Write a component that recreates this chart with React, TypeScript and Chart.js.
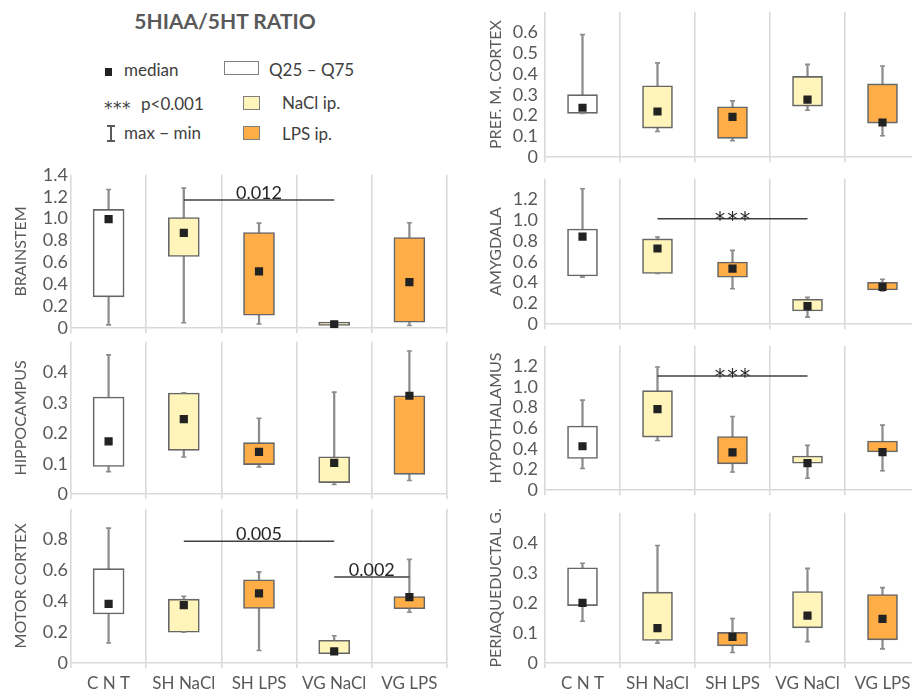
import React, { useEffect, useRef } from 'react';
import { Chart, registerables } from 'chart.js';

Chart.register(...registerables);
Chart.defaults.font.family = 'Lato, "Open Sans", sans-serif';

// ---------- data ----------
const CATEGORIES = ['CNT', 'SH NaCl', 'SH LPS', 'VG NaCl', 'VG LPS'];
const X_TICK_LABELS = ['C N T', 'SH NaCl', 'SH LPS', 'VG NaCl', 'VG LPS'];

// each row: [min, q25, median, q75, max] per category
const BRAINSTEM = [
  [0.03, 0.286, 0.995, 1.084, 1.266],
  [0.05, 0.655, 0.87, 1.01, 1.28],
  [0.039, 0.119, 0.518, 0.873, 0.959],
  [0.02, 0.025, 0.036, 0.055, 0.06],
  [0.024, 0.054, 0.42, 0.828, 0.962],
];
const HIPPOCAMPUS = [
  [0.074, 0.091, 0.173, 0.319, 0.457],
  [0.122, 0.144, 0.246, 0.332, 0.333],
  [0.089, 0.097, 0.139, 0.169, 0.249],
  [0.032, 0.038, 0.103, 0.123, 0.335],
  [0.045, 0.065, 0.323, 0.323, 0.47],
];
const MOTOR_CORTEX = [
  [0.13, 0.318, 0.384, 0.612, 0.875],
  [0.2, 0.2, 0.375, 0.414, 0.433],
  [0.081, 0.354, 0.452, 0.54, 0.591],
  [0.06, 0.06, 0.075, 0.147, 0.177],
  [0.329, 0.352, 0.427, 0.431, 0.672],
];
const PREF_CORTEX = [
  [0.211, 0.211, 0.238, 0.301, 0.59],
  [0.124, 0.14, 0.22, 0.344, 0.454],
  [0.079, 0.091, 0.194, 0.243, 0.271],
  [0.226, 0.246, 0.277, 0.389, 0.447],
  [0.103, 0.164, 0.167, 0.353, 0.439],
];
const AMYGDALA = [
  [0.453, 0.465, 0.844, 0.916, 1.304],
  [0.489, 0.489, 0.729, 0.821, 0.839],
  [0.341, 0.453, 0.536, 0.599, 0.711],
  [0.068, 0.127, 0.175, 0.24, 0.258],
  [0.32, 0.329, 0.359, 0.403, 0.433],
];
const HYPOTHALAMUS = [
  [0.211, 0.307, 0.426, 0.622, 0.873],
  [0.482, 0.515, 0.786, 0.965, 1.194],
  [0.176, 0.256, 0.366, 0.521, 0.715],
  [0.116, 0.262, 0.262, 0.331, 0.435],
  [0.188, 0.37, 0.369, 0.476, 0.631],
];
const PERIAQUEDUCTAL = [
  [0.139, 0.191, 0.2, 0.317, 0.332],
  [0.066, 0.075, 0.116, 0.236, 0.391],
  [0.035, 0.057, 0.087, 0.102, 0.148],
  [0.071, 0.117, 0.158, 0.238, 0.315],
  [0.047, 0.077, 0.147, 0.228, 0.251],
];

// significance bars: [label, fromCategory, toCategory, yValue]
const BRAINSTEM_SIG = [['0.012', 1, 3, 1.17]];
const MOTOR_SIG = [['0.005', 1, 3, 0.789], ['0.002', 3, 4, 0.557]];
const AMYGDALA_SIG = [['***', 1, 3, 1.016]];
const HYPOTHALAMUS_SIG = [['***', 1, 3, 1.108]];

// y tick labels (top gridline value unlabeled where absent)
const TICKS_014 = ['0', '0.2', '0.4', '0.6', '0.8', '1.0', '1.2', '1.4'];
const TICKS_012 = ['0', '0.2', '0.4', '0.6', '0.8', '1.0', '1.2'];
const TICKS_008 = ['0', '0.2', '0.4', '0.6', '0.8'];
const TICKS_04 = ['0', '0.1', '0.2', '0.3', '0.4'];
const TICKS_06 = ['0', '0.1', '0.2', '0.3', '0.4', '0.5', '0.6'];

// ---------- styles ----------
const BOX_FILLS = ['#FFFFFF', '#FFF5BA', '#FFAD47', '#FFF5BA', '#FFAD47'];
const BOX_BORDER = '#666666';
const WHISKER = '#8C8C8C';
const MEDIAN = '#222222';
const GRID = '#D9D9D9';
const TICK_COLOR = '#595959';
const STAR_FONT = '"DejaVu Sans", sans-serif';

type Panel = {
  title: string;
  data: number[][];
  sig: any[];
  ticks: string[];
  max: number;
  step: number;
  col: 0 | 1;
  row: number;
  bottom: boolean;
};

const PANELS: Panel[] = [
  { title: 'BRAINSTEM', data: BRAINSTEM, sig: BRAINSTEM_SIG, ticks: TICKS_014, max: 1.4, step: 0.2, col: 0, row: 1, bottom: false },
  { title: 'HIPPOCAMPUS', data: HIPPOCAMPUS, sig: [], ticks: TICKS_04, max: 0.5, step: 0.1, col: 0, row: 2, bottom: false },
  { title: 'MOTOR CORTEX', data: MOTOR_CORTEX, sig: MOTOR_SIG, ticks: TICKS_008, max: 1.0, step: 0.2, col: 0, row: 3, bottom: true },
  { title: 'PREF. M. CORTEX', data: PREF_CORTEX, sig: [], ticks: TICKS_06, max: 0.7, step: 0.1, col: 1, row: 0, bottom: false },
  { title: 'AMYGDALA', data: AMYGDALA, sig: AMYGDALA_SIG, ticks: TICKS_012, max: 1.4, step: 0.2, col: 1, row: 1, bottom: false },
  { title: 'HYPOTHALAMUS', data: HYPOTHALAMUS, sig: HYPOTHALAMUS_SIG, ticks: TICKS_012, max: 1.4, step: 0.2, col: 1, row: 2, bottom: false },
  { title: 'PERIAQUEDUCTAL G.', data: PERIAQUEDUCTAL, sig: [], ticks: TICKS_04, max: 0.5, step: 0.1, col: 1, row: 3, bottom: true },
];

// plot-area geometry
const ROWS = [
  [6, 163],
  [173, 330],
  [340, 496],
  [507, 663],
];
const COLS = [
  { left: 0, width: 455, tickPad: 3, titlePad: 11.5, boxW: 31 },
  { left: 474, width: 454, tickPad: 7, titlePad: 12.5, boxW: 30 },
];
const AXIS_W = 71;
const PAD_TOP = 12;
const PAD_RIGHT = 8;

const sigPlugin = {
  id: 'sigText',
  afterDatasetsDraw(chart: any, _args: any, opts: any) {
    const items = (opts && opts.items) || [];
    const { ctx } = chart;
    const x = chart.scales.x;
    const y = chart.scales.y;
    items.forEach((s: any) => {
      const [label, from, to, yv] = s;
      const cx = (x.getPixelForValue(from) + x.getPixelForValue(to)) / 2;
      const py = y.getPixelForValue(yv);
      ctx.save();
      ctx.fillStyle = '#262626';
      ctx.textAlign = 'center';
      ctx.textBaseline = 'alphabetic';
      if (label === '***') {
        ctx.font = '21px ' + STAR_FONT;
        (ctx as any).letterSpacing = '2px';
        ctx.fillText(label, cx + 1, py + 8);
      } else {
        ctx.font = '18px Lato, sans-serif';
        ctx.fillText(label, cx, py - 1.5);
      }
      ctx.restore();
    });
  },
};

function PanelChart({ p }: { p: Panel }) {
  const ref = useRef<HTMLCanvasElement>(null);
  const col = COLS[p.col];
  const [top, bottom] = ROWS[p.row];
  const xh = p.bottom ? 32 : 8;
  const padBottom = p.bottom ? 0 : 4;
  const height = PAD_TOP + (bottom - top) + xh + padBottom;

  useEffect(() => {
    if (!ref.current) return;
    const d = p.data;
    const datasets: any[] = [
      {
        type: 'bar',
        data: d.map((r) => [r[0], r[4]]),
        backgroundColor: WHISKER,
        borderWidth: 0,
        barThickness: 1.6,
        grouped: false,
        order: 4,
      },
      {
        type: 'bar',
        data: d.map((r) => [r[1], r[3]]),
        backgroundColor: BOX_FILLS,
        borderColor: BOX_BORDER,
        borderWidth: 1.6,
        borderSkipped: false,
        barThickness: col.boxW,
        grouped: false,
        order: 3,
      },
      {
        type: 'line',
        data: d.map((r) => r[4]),
        showLine: false,
        pointStyle: 'line',
        pointRadius: 2.5,
        pointBorderColor: WHISKER,
        pointBorderWidth: 1.6,
        order: 2,
      },
      {
        type: 'line',
        data: d.map((r) => r[0]),
        showLine: false,
        pointStyle: 'line',
        pointRadius: 2.5,
        pointBorderColor: WHISKER,
        pointBorderWidth: 1.6,
        order: 2,
      },
      ...p.sig.map((s: any) => ({
        type: 'line',
        data: CATEGORIES.map((_, i) => (i === s[1] || i === s[2] ? s[3] : null)),
        spanGaps: true,
        borderColor: '#404040',
        borderWidth: 1.5,
        pointRadius: 0,
        order: 1,
      })),
      {
        type: 'line',
        data: d.map((r) => r[2]),
        showLine: false,
        pointStyle: 'rect',
        pointRadius: 5.8,
        pointBackgroundColor: MEDIAN,
        pointBorderColor: MEDIAN,
        pointBorderWidth: 0,
        order: 0,
      },
    ];

    const chart = new Chart(ref.current, {
      type: 'bar',
      data: { labels: CATEGORIES, datasets },
      plugins: [sigPlugin as any],
      options: {
        responsive: false,
        animation: false,
        events: [],
        layout: { padding: { top: PAD_TOP, right: PAD_RIGHT, bottom: padBottom, left: 0 } },
        plugins: {
          legend: { display: false },
          tooltip: { enabled: false },
          sigText: { items: p.sig },
        } as any,
        scales: {
          x: {
            type: 'category',
            offset: true,
            grid: { offset: true, color: GRID, lineWidth: 1.6, drawTicks: true, tickLength: 5 },
            border: { display: true, color: GRID, width: 1.6 },
            ticks: {
              display: p.bottom,
              color: TICK_COLOR,
              font: { size: 17 },
              padding: 5,
              maxRotation: 0,
              autoSkip: false,
              callback: (_v: any, i: number) => X_TICK_LABELS[i],
            },
            afterFit: (s: any) => {
              s.height = xh;
            },
          },
          y: {
            min: 0,
            max: p.max,
            grid: { display: false, drawTicks: false },
            border: { display: false },
            ticks: {
              stepSize: p.step,
              autoSkip: false,
              color: TICK_COLOR,
              font: { size: 18 },
              padding: col.tickPad,
              callback: (_v: any, i: number) => p.ticks[i] ?? '',
            },
            title: {
              display: true,
              text: p.title,
              color: TICK_COLOR,
              font: { size: 16 },
              padding: { top: col.titlePad, bottom: 0 },
            },
            afterFit: (s: any) => {
              s.width = AXIS_W;
            },
          },
        } as any,
      },
    } as any);
    return () => chart.destroy();
  }, []);

  return (
    <canvas
      ref={ref}
      width={col.width}
      height={height}
      style={{
        position: 'absolute',
        left: col.left,
        top: top - PAD_TOP,
        width: col.width,
        height,
      }}
    />
  );
}

const legendText: React.CSSProperties = {
  position: 'absolute',
  fontFamily: 'Lato, sans-serif',
  fontSize: 17,
  color: '#404040',
  lineHeight: '20px',
  height: 20,
  whiteSpace: 'nowrap',
};

function Legend() {
  return (
    <>
      <div
        style={{
          position: 'absolute',
          left: 0,
          width: 450,
          top: 8,
          textAlign: 'center',
          fontFamily: 'Lato, sans-serif',
          fontWeight: 700,
          fontSize: 21,
          lineHeight: '26px',
          color: '#595959',
        }}
      >
        5HIAA/5HT RATIO
      </div>
      {/* median */}
      <div style={{ position: 'absolute', left: 105, top: 68, width: 7, height: 8, background: MEDIAN }} />
      <div style={{ ...legendText, left: 124, top: 60 }}>median</div>
      {/* Q25-Q75 */}
      <div
        style={{
          position: 'absolute',
          left: 224,
          top: 61,
          width: 33,
          height: 12,
          border: '1.5px solid #7F7F7F',
          background: '#fff',
        }}
      />
      <div style={{ ...legendText, left: 269, top: 60 }}>Q25 – Q75</div>
      {/* p value */}
      <div style={{ ...legendText, left: 104, top: 98, fontFamily: STAR_FONT, fontSize: 17, letterSpacing: 0.5 }}>***</div>
      <div style={{ ...legendText, left: 141, top: 94 }}>p&lt;0.001</div>
      {/* NaCl */}
      <div
        style={{
          position: 'absolute',
          left: 243,
          top: 96,
          width: 15,
          height: 12,
          border: '1.5px solid #7F7F7F',
          background: BOX_FILLS[1],
        }}
      />
      <div style={{ ...legendText, left: 282, top: 93 }}>NaCl ip.</div>
      {/* max-min */}
      <div style={{ position: 'absolute', left: 110.2, top: 125, width: 1.6, height: 17, background: '#595959' }} />
      <div style={{ position: 'absolute', left: 107, top: 125, width: 8, height: 1.6, background: '#595959' }} />
      <div style={{ position: 'absolute', left: 107, top: 140.4, width: 8, height: 1.6, background: '#595959' }} />
      <div style={{ ...legendText, left: 124, top: 123 }}>max − min</div>
      {/* LPS */}
      <div
        style={{
          position: 'absolute',
          left: 243,
          top: 126,
          width: 15,
          height: 12,
          border: '1.5px solid #7F7F7F',
          background: BOX_FILLS[2],
        }}
      />
      <div style={{ ...legendText, left: 282, top: 124 }}>LPS ip.</div>
    </>
  );
}

export default function App() {
  return (
    <div
      style={{
        position: 'absolute',
        left: 0,
        top: 0,
        width: 912,
        height: 695,
        overflow: 'hidden',
        background: '#ffffff',
      }}
    >
      <Legend />
      {PANELS.map((p) => (
        <PanelChart key={p.title} p={p} />
      ))}
    </div>
  );
}
